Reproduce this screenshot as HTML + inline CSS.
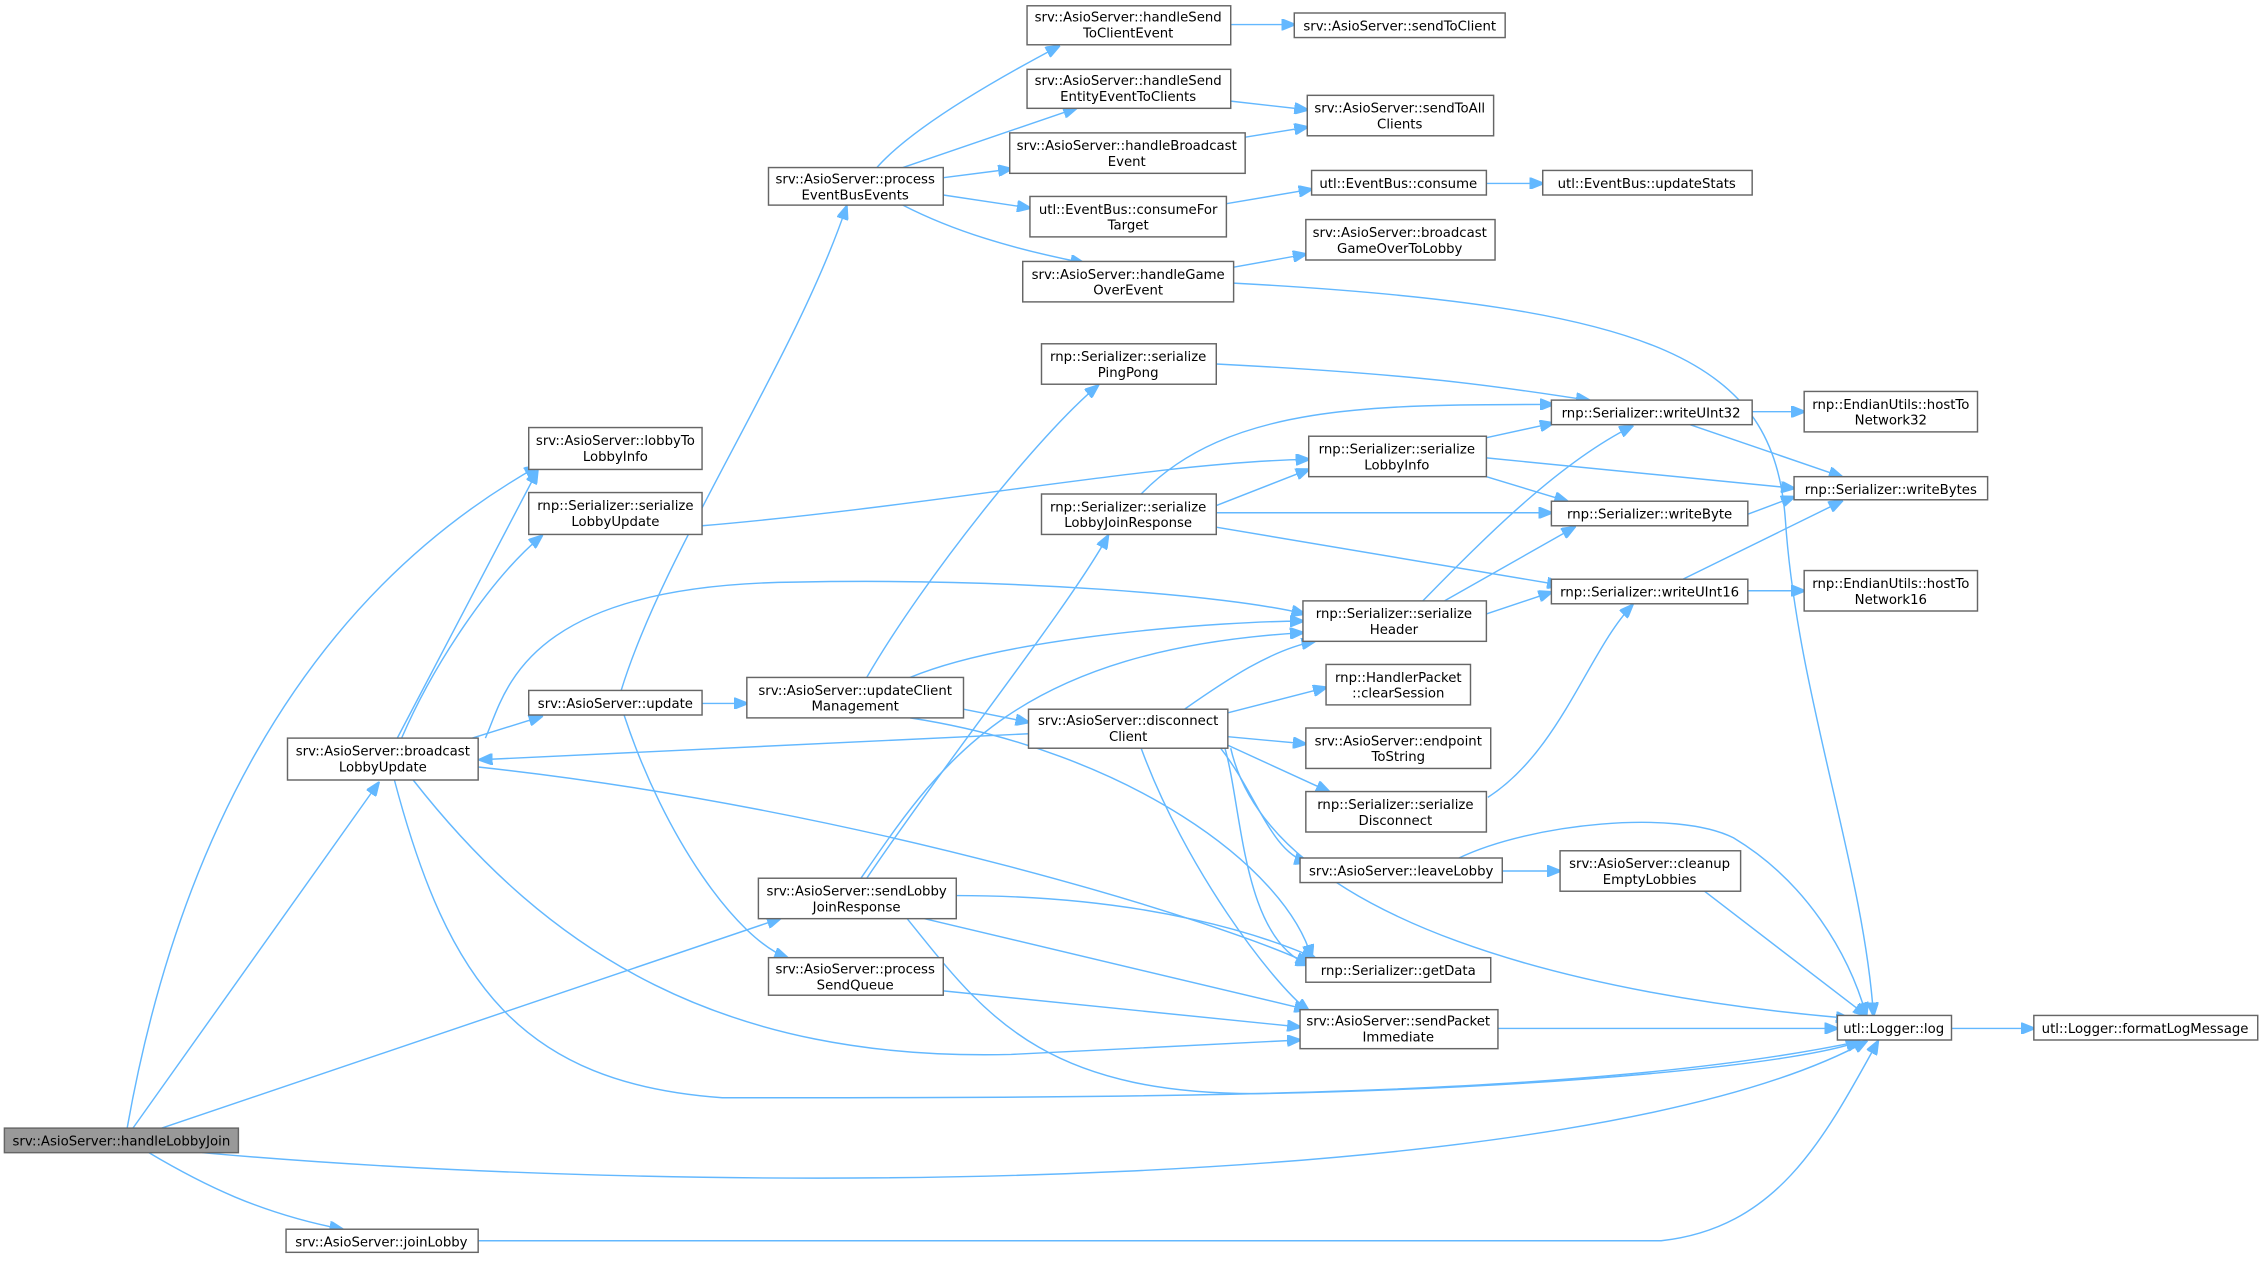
<!DOCTYPE html>
<html><head><meta charset="utf-8"><style>
html,body{margin:0;padding:0;background:#fff;}
svg{display:block;}
text{font-family:"DejaVu Sans","Liberation Sans",sans-serif;font-size:9.2px;fill:#000;text-anchor:middle;}
rect{fill:#fff;stroke:#666;stroke-width:1;}
path{fill:none;stroke:#63b8ff;stroke-width:1;}
</style></head><body>
<svg width="2265" height="1261" viewBox="0 0 1568 873" xmlns="http://www.w3.org/2000/svg">
<defs><marker id="a" markerUnits="userSpaceOnUse" markerWidth="10" markerHeight="8" refX="9" refY="4" orient="auto"><path d="M0,0 L10,4 L0,8 Z" style="fill:#63b8ff;stroke:#63b8ff"/></marker></defs>
<g marker-end="url(#a)">
<path d="M88,781 C120,600 200,420 372,323"/>
<path d="M92,781 L262,542"/>
<path d="M112,781 L540,636"/>
<path d="M140,798 C500,830 1100,826 1292,721"/>
<path d="M103,798 C140,820 180,840 237,851"/>
<path d="M331,859 L1150,859 C1230,850 1262,790 1300,721"/>
<path d="M275,511 L372,326"/>
<path d="M278,511 C300,460 340,400 375,371"/>
<path d="M327,511 L375,496"/>
<path d="M336,511 C350,480 360,405 550,403 C700,400 850,412 903,425"/>
<path d="M331,531 C600,560 850,640 906,667"/>
<path d="M286,540 C380,660 500,735 700,730 L900,720"/>
<path d="M273,540 C310,680 360,750 500,760 C800,760 1100,760 1287,721"/>
<path d="M430,478 C460,380 550,250 586,143"/>
<path d="M486,487 L517,487"/>
<path d="M432,495 C460,580 510,650 545,663"/>
<path d="M607,116 C630,90 680,60 733,32"/>
<path d="M625,116 L745,75"/>
<path d="M653,123 L700,117"/>
<path d="M653,135 L713,144"/>
<path d="M625,142 C660,160 700,172 750,182"/>
<path d="M850,17 L896,17"/>
<path d="M852,70 L905,76"/>
<path d="M862,95 L905,88"/>
<path d="M849,141 L908,131"/>
<path d="M1029,127 L1068,127"/>
<path d="M854,185 L904,176"/>
<path d="M854,196 C1150,212 1228,250 1236,360 C1244,480 1290,600 1297,703"/>
<path d="M600,469 C640,400 720,300 760,267"/>
<path d="M630,469 C700,440 850,430 902,430"/>
<path d="M667,491 L712,500"/>
<path d="M630,497 C780,520 890,600 908,663"/>
<path d="M600,608 C660,520 740,420 767,371"/>
<path d="M596,608 C650,530 700,450 902,438"/>
<path d="M662,620 C800,620 880,650 910,663"/>
<path d="M640,636 L905,699"/>
<path d="M628,636 C680,700 720,760 880,757 C1100,752 1250,735 1287,721"/>
<path d="M653,686 L900,711"/>
<path d="M712,508 L332,526"/>
<path d="M820,491 C850,470 880,450 910,444"/>
<path d="M848,494 L918,476"/>
<path d="M850,510 L904,515"/>
<path d="M848,515 L920,548"/>
<path d="M845,518 C870,550 880,590 905,597"/>
<path d="M848,518 C860,560 860,650 906,668"/>
<path d="M790,518 C820,600 880,680 906,700"/>
<path d="M852,518 C880,640 1100,690 1280,705"/>
<path d="M486,364 C650,350 800,320 906,318"/>
<path d="M1029,303 L1075,293"/>
<path d="M1029,317 L1242,338"/>
<path d="M1029,330 L1085,347"/>
<path d="M790,342 C850,280 950,280 1075,280"/>
<path d="M842,350 L906,325"/>
<path d="M842,355 L1074,355"/>
<path d="M842,365 L1080,405"/>
<path d="M842,252 C1000,260 1050,270 1100,277"/>
<path d="M1213,285 L1249,285"/>
<path d="M1170,294 L1275,330"/>
<path d="M1210,356 L1242,344"/>
<path d="M1165,401 L1275,347"/>
<path d="M1210,409 L1249,409"/>
<path d="M985,416 C1030,370 1080,320 1130,295"/>
<path d="M1000,416 L1090,365"/>
<path d="M1029,425 L1074,410"/>
<path d="M1030,552 C1080,520 1100,450 1130,419"/>
<path d="M1040,603 L1080,603"/>
<path d="M1010,594 C1060,570 1160,560 1200,580 C1250,610 1280,660 1292,703"/>
<path d="M1180,617 L1292,703"/>
<path d="M1037,712 L1272,712"/>
<path d="M1351,712 L1408,712"/>
</g>
<g>
<rect x="3" y="781" width="162" height="17" style="fill:#999"/><text x="84" y="793">srv::AsioServer::handleLobbyJoin</text>
<rect x="198" y="851" width="133" height="16"/><text x="264" y="863">srv::AsioServer::joinLobby</text>
<rect x="199" y="511" width="132" height="29"/><text x="265" y="523">srv::AsioServer::broadcast</text><text x="265" y="534">LobbyUpdate</text>
<rect x="366" y="296" width="120" height="29"/><text x="426" y="308">srv::AsioServer::lobbyTo</text><text x="426" y="319">LobbyInfo</text>
<rect x="366" y="341" width="120" height="29"/><text x="426" y="353">rnp::Serializer::serialize</text><text x="426" y="364">LobbyUpdate</text>
<rect x="366" y="478" width="120" height="17"/><text x="426" y="490">srv::AsioServer::update</text>
<rect x="532" y="116" width="121" height="26"/><text x="592" y="127">srv::AsioServer::process</text><text x="592" y="138">EventBusEvents</text>
<rect x="517" y="469" width="150" height="28"/><text x="592" y="481">srv::AsioServer::updateClient</text><text x="592" y="492">Management</text>
<rect x="525" y="608" width="137" height="28"/><text x="593" y="620">srv::AsioServer::sendLobby</text><text x="593" y="631">JoinResponse</text>
<rect x="532" y="663" width="121" height="26"/><text x="592" y="674">srv::AsioServer::process</text><text x="592" y="685">SendQueue</text>
<rect x="711" y="4" width="141" height="27"/><text x="781" y="15">srv::AsioServer::handleSend</text><text x="781" y="26">ToClientEvent</text>
<rect x="896" y="9" width="146" height="17"/><text x="969" y="21">srv::AsioServer::sendToClient</text>
<rect x="711" y="48" width="141" height="27"/><text x="781" y="59">srv::AsioServer::handleSend</text><text x="781" y="70">EntityEventToClients</text>
<rect x="905" y="66" width="129" height="28"/><text x="969" y="78">srv::AsioServer::sendToAll</text><text x="969" y="89">Clients</text>
<rect x="699" y="92" width="163" height="28"/><text x="780" y="104">srv::AsioServer::handleBroadcast</text><text x="780" y="115">Event</text>
<rect x="713" y="136" width="136" height="28"/><text x="781" y="148">utl::EventBus::consumeFor</text><text x="781" y="159">Target</text>
<rect x="908" y="118" width="121" height="17"/><text x="968" y="130">utl::EventBus::consume</text>
<rect x="1068" y="118" width="145" height="17"/><text x="1140" y="130">utl::EventBus::updateStats</text>
<rect x="904" y="152" width="131" height="28"/><text x="969" y="164">srv::AsioServer::broadcast</text><text x="969" y="175">GameOverToLobby</text>
<rect x="708" y="181" width="146" height="28"/><text x="781" y="193">srv::AsioServer::handleGame</text><text x="781" y="204">OverEvent</text>
<rect x="721" y="238" width="121" height="28"/><text x="781" y="250">rnp::Serializer::serialize</text><text x="781" y="261">PingPong</text>
<rect x="1074" y="277" width="139" height="17"/><text x="1143" y="289">rnp::Serializer::writeUInt32</text>
<rect x="1249" y="271" width="120" height="28"/><text x="1309" y="283">rnp::EndianUtils::hostTo</text><text x="1309" y="294">Network32</text>
<rect x="906" y="302" width="123" height="28"/><text x="967" y="314">rnp::Serializer::serialize</text><text x="967" y="325">LobbyInfo</text>
<rect x="721" y="342" width="121" height="28"/><text x="781" y="354">rnp::Serializer::serialize</text><text x="781" y="365">LobbyJoinResponse</text>
<rect x="1242" y="330" width="134" height="16"/><text x="1309" y="342">rnp::Serializer::writeBytes</text>
<rect x="1074" y="347" width="136" height="17"/><text x="1142" y="359">rnp::Serializer::writeByte</text>
<rect x="1074" y="401" width="136" height="17"/><text x="1142" y="413">rnp::Serializer::writeUInt16</text>
<rect x="1249" y="395" width="120" height="28"/><text x="1309" y="407">rnp::EndianUtils::hostTo</text><text x="1309" y="418">Network16</text>
<rect x="902" y="416" width="127" height="28"/><text x="965" y="428">rnp::Serializer::serialize</text><text x="965" y="439">Header</text>
<rect x="918" y="460" width="100" height="28"/><text x="968" y="472">rnp::HandlerPacket</text><text x="968" y="483">::clearSession</text>
<rect x="712" y="491" width="138" height="27"/><text x="781" y="502">srv::AsioServer::disconnect</text><text x="781" y="513">Client</text>
<rect x="904" y="504" width="128" height="28"/><text x="968" y="516">srv::AsioServer::endpoint</text><text x="968" y="527">ToString</text>
<rect x="904" y="548" width="125" height="28"/><text x="966" y="560">rnp::Serializer::serialize</text><text x="966" y="571">Disconnect</text>
<rect x="900" y="594" width="140" height="17"/><text x="970" y="606">srv::AsioServer::leaveLobby</text>
<rect x="1080" y="589" width="125" height="28"/><text x="1142" y="601">srv::AsioServer::cleanup</text><text x="1142" y="612">EmptyLobbies</text>
<rect x="904" y="663" width="128" height="17"/><text x="968" y="675">rnp::Serializer::getData</text>
<rect x="900" y="699" width="137" height="27"/><text x="968" y="710">srv::AsioServer::sendPacket</text><text x="968" y="721">Immediate</text>
<rect x="1272" y="703" width="79" height="17"/><text x="1311" y="715">utl::Logger::log</text>
<rect x="1408" y="703" width="155" height="17"/><text x="1485" y="715">utl::Logger::formatLogMessage</text>
</g>
</svg>
</body></html>
